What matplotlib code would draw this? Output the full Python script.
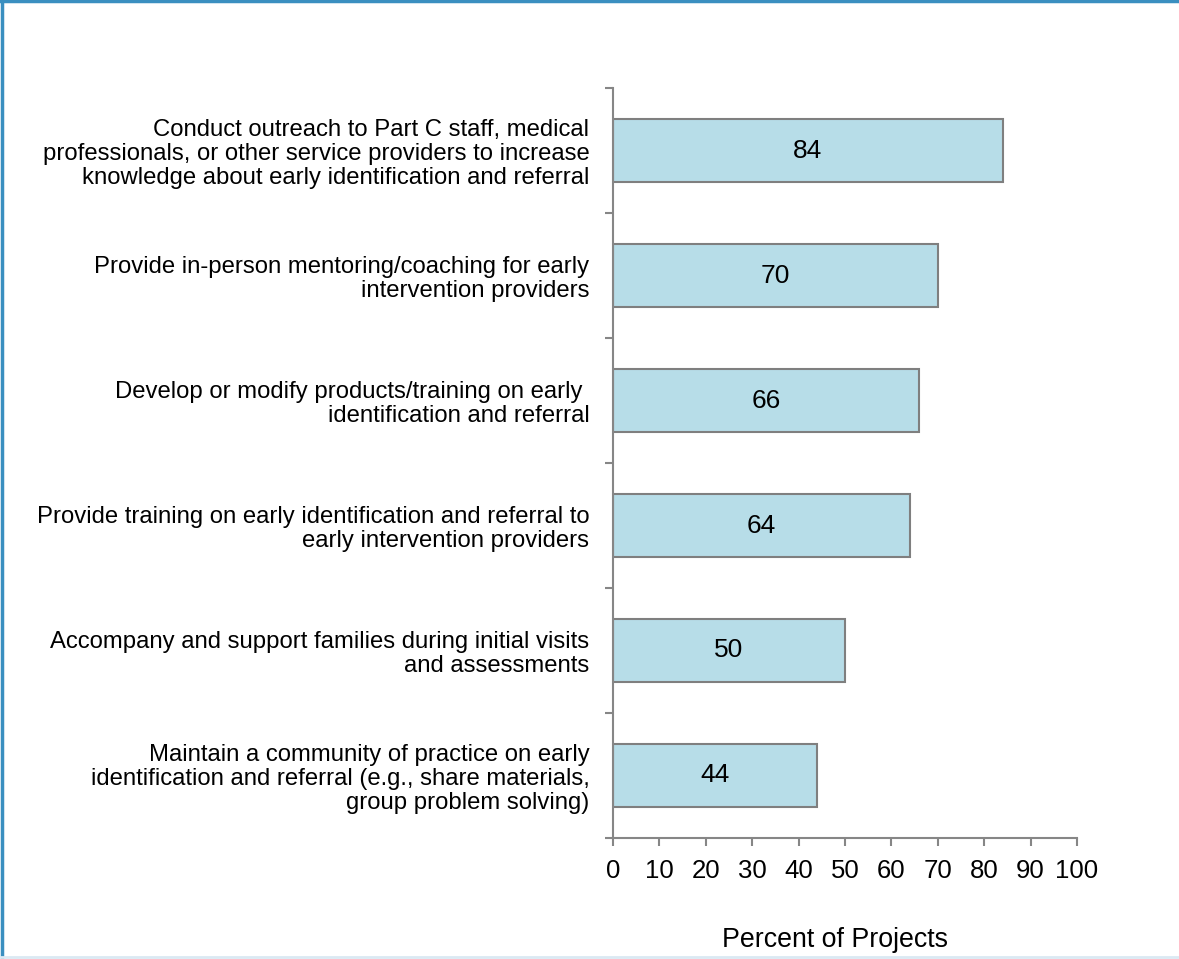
import numpy as np
from matplotlib import pyplot as plt
from matplotlib.lines import Line2D

activities = [
    'Conduct outreach to Part C staff, medical\nprofessionals, or other service providers to increase\nknowledge about early identification and referral',
    'Provide in-person mentoring/coaching for early\nintervention providers',
    'Develop or modify products/training on early \nidentification and referral',
    'Provide training on early identification and referral to\nearly intervention providers',
    'Accompany and support families during initial visits\nand assessments',
    'Maintain a community of practice on early\nidentification and referral (e.g., share materials,\ngroup problem solving)',
]
percents = [84, 70, 66, 64, 50, 44]
xticks = list(range(0, 101, 10))

plt.rcParams['font.family'] = ['Liberation Sans', 'DejaVu Sans']

fig = plt.figure(figsize=(11.79, 9.59), dpi=100)
ax = fig.add_axes([0.52, 0.1262, 0.3935, 0.782])

pos = np.arange(len(activities))[::-1]
bars = ax.barh(pos, percents, height=0.5, color='#b7dde8',
               edgecolor='#7f7f7f', linewidth=1.5, zorder=2)
for b, v in zip(bars, percents):
    ax.text(v / 2, b.get_y() + b.get_height() / 2, str(v),
            ha='center', va='center', fontsize=19, color='black')

ax.set_xlim(0, 100)
ax.set_ylim(-0.5, len(activities) - 0.5)
ax.set_xticks(xticks)
ax.set_xticklabels([str(t) for t in xticks], fontsize=18.5)
ax.tick_params(axis='x', direction='out', length=6, width=1.5,
               color='#868686', pad=9)

# category labels at centres, tick marks on category boundaries
ax.set_yticks(pos)
ax.set_yticklabels(activities, fontsize=17.2, linespacing=1.1)
ax.tick_params(axis='y', which='major', length=0, pad=17)
ax.set_yticks(np.arange(-0.5, len(activities)), minor=True)
ax.tick_params(axis='y', which='minor', direction='out', length=6,
               width=1.5, color='#868686')

for side in ['top', 'right']:
    ax.spines[side].set_visible(False)
for side in ['left', 'bottom']:
    ax.spines[side].set_color('#868686')
    ax.spines[side].set_linewidth(1.5)

ax.set_xlabel('Percent of Projects', fontsize=19.3)
ax.xaxis.set_label_coords(0.478, -0.119)

# frame around the figure
fig.add_artist(Line2D([0.0015, 0.0015], [0, 1], color='#3a8fc0', lw=2.5,
                      transform=fig.transFigure))
fig.add_artist(Line2D([0, 1], [0.9985, 0.9985], color='#3a8fc0', lw=2.5,
                      transform=fig.transFigure))
fig.add_artist(Line2D([0, 1], [0.002, 0.002], color='#dbe9f3', lw=2,
                      transform=fig.transFigure))

plt.savefig('out.png', dpi=100)
plt.close()
